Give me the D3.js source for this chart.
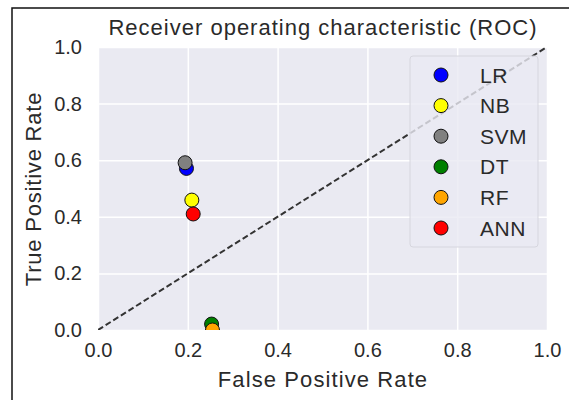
<!DOCTYPE html>
<html>
<head>
<meta charset="utf-8">
<script src="https://cdn.jsdelivr.net/npm/d3@7"></script>
<style>
  html, body { margin: 0; padding: 0; background: #fff; }
  svg { display: block; }
  text { font-family: "Liberation Sans", Arial, sans-serif; fill: #2a2a2a; }
</style>
</head>
<body>
<svg id="chart" width="569" height="400"></svg>
<script>
// ---- data ----
const models = ["LR", "NB", "SVM", "DT", "RF", "ANN"];
const fpr = [0.197, 0.209, 0.194, 0.253, 0.255, 0.212];
const tpr = [0.571, 0.459, 0.591, 0.021, 0.000, 0.410];
const colors = ["#0000ff", "#ffff00", "#808080", "#008000", "#ffa500", "#ff0000"];
const xTicks = [0.0, 0.2, 0.4, 0.6, 0.8, 1.0];
const yTicks = [0.0, 0.2, 0.4, 0.6, 0.8, 1.0];
const diagonal = [[0, 0], [1, 1]];
const title = "Receiver operating characteristic (ROC)";
const xLabel = "False Positive Rate";
const yLabel = "True Positive Rate";

// ---- layout ----
const svg = d3.select("#chart");
const L = 98, R = 547, T = 47, B = 330;
const x = d3.scaleLinear().domain([0, 1]).range([L, R]);
const y = d3.scaleLinear().domain([0, 1]).range([B, T]);

// outer frame (top & left edges visible)
svg.append("path")
  .attr("d", "M12,400 L12,8 L569,8")
  .attr("fill", "none").attr("stroke", "#111").attr("stroke-width", 1.5);

// axes background
svg.append("rect").attr("x", L).attr("y", T).attr("width", R - L).attr("height", B - T)
  .attr("fill", "#eaeaf2");

svg.append("clipPath").attr("id", "clip")
  .append("rect").attr("x", L).attr("y", T).attr("width", R - L).attr("height", B - T);

// grid
const gx = d3.axisBottom(x).tickValues(xTicks).tickSize(-(B - T)).tickFormat("");
const gy = d3.axisLeft(y).tickValues(yTicks).tickSize(-(R - L)).tickFormat("");
const gridX = svg.append("g").attr("transform", `translate(0,${B})`).call(gx);
const gridY = svg.append("g").attr("transform", `translate(${L},0)`).call(gy);
[gridX, gridY].forEach(g => {
  g.select(".domain").remove();
  g.selectAll("line").attr("stroke", "#fff").attr("stroke-width", 1.5);
});

// tick labels
const ax = d3.axisBottom(x).tickValues(xTicks).tickSize(0).tickPadding(13).tickFormat(d3.format(".1f"));
const ay = d3.axisLeft(y).tickValues(yTicks).tickSize(0).tickPadding(16).tickFormat(d3.format(".1f"));
const axX = svg.append("g").attr("transform", `translate(0,${B})`).call(ax);
const axY = svg.append("g").attr("transform", `translate(${L},0)`).call(ay);
[axX, axY].forEach(g => {
  g.select(".domain").remove();
  g.selectAll("text").attr("font-size", 20).attr("font-family", "'Liberation Sans', Arial, sans-serif").attr("fill", "#2a2a2a");
});

const plot = svg.append("g").attr("clip-path", "url(#clip)");

// diagonal
plot.append("path")
  .datum(diagonal)
  .attr("d", d3.line().x(d => x(d[0])).y(d => y(d[1])))
  .attr("fill", "none").attr("stroke", "#333").attr("stroke-width", 2)
  .attr("stroke-dasharray", "6,3");

// points
plot.selectAll("circle.pt").data(models).join("circle")
  .attr("class", "pt")
  .attr("cx", (d, i) => x(fpr[i]))
  .attr("cy", (d, i) => y(tpr[i]))
  .attr("r", 7)
  .attr("fill", (d, i) => colors[i])
  .attr("stroke", "#111").attr("stroke-width", 1);

// legend
const lg = svg.append("g");
lg.append("rect").attr("x", 410).attr("y", 56).attr("width", 128).attr("height", 191)
  .attr("rx", 3)
  .attr("fill", "#eaeaf2").attr("fill-opacity", 0.8)
  .attr("stroke", "#d6d6de").attr("stroke-width", 1);
const rowY = d3.scalePoint().domain(models).range([75, 228]);
lg.selectAll("circle").data(models).join("circle")
  .attr("cx", 441).attr("cy", d => rowY(d)).attr("r", 7)
  .attr("fill", (d, i) => colors[i]).attr("stroke", "#111").attr("stroke-width", 1);
lg.selectAll("text").data(models).join("text")
  .attr("x", 480).attr("y", d => rowY(d)).attr("dy", "0.36em")
  .attr("font-size", 21).attr("letter-spacing", 0.5).text(d => d);

// title and labels
svg.append("text").attr("x", (L + R) / 2 + 0.5).attr("y", 35).attr("text-anchor", "middle")
  .attr("font-size", 22).attr("letter-spacing", 1).text(title);
svg.append("text").attr("x", (L + R) / 2 + 0.5).attr("y", 387).attr("text-anchor", "middle")
  .attr("font-size", 22).attr("letter-spacing", 1.1).text(xLabel);
svg.append("text").attr("transform", `translate(41,${(T + B) / 2 + 0.5}) rotate(-90)`)
  .attr("text-anchor", "middle").attr("font-size", 22).attr("letter-spacing", 0.8).text(yLabel);
</script>
</body>
</html>
